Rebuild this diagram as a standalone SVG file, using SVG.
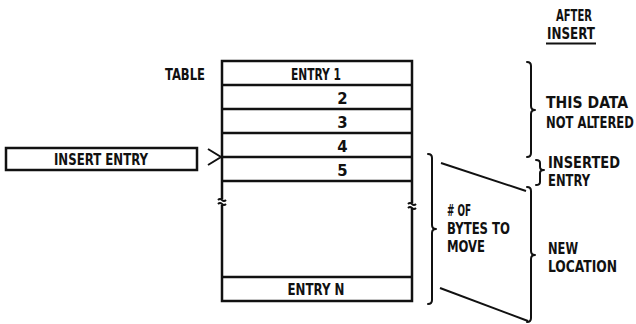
<svg xmlns="http://www.w3.org/2000/svg" width="636" height="324" viewBox="0 0 636 324">
<style>
text{font-family:"DejaVu Sans Condensed","DejaVu Sans","Liberation Sans",sans-serif;font-weight:bold;font-size:16.5px;fill:#111}
.box{fill:none;stroke:#111;stroke-width:2.5}
.ln{fill:none;stroke:#111;stroke-width:2}
.br{fill:none;stroke:#111;stroke-width:2;stroke-linecap:round;stroke-linejoin:round}
.m{text-anchor:middle}
</style>
<rect width="636" height="324" fill="#fff"/>
<g id="heading">
<text x="574" y="21" class="m" textLength="36" lengthAdjust="spacingAndGlyphs">AFTER</text>
<text x="571" y="39" class="m" textLength="48" lengthAdjust="spacingAndGlyphs">INSERT</text>
<line x1="546" y1="43.5" x2="596" y2="43.5" stroke="#111" stroke-width="2"/>
</g>
<g id="table">
<text x="205" y="80" text-anchor="end" textLength="40" lengthAdjust="spacingAndGlyphs">TABLE</text>
<path class="box" d="M222,199 V61 H412 V203 M222,205 V301 H412 V208"/>
<line class="box" x1="222" y1="85" x2="412" y2="85"/>
<line class="box" x1="222" y1="109" x2="412" y2="109"/>
<line class="box" x1="222" y1="133" x2="412" y2="133"/>
<line class="box" x1="222" y1="157" x2="412" y2="157"/>
<line class="box" x1="222" y1="181" x2="412" y2="181"/>
<line class="box" x1="222" y1="277" x2="412" y2="277"/>
<path class="ln" stroke-width="1.6" d="M218,200 q2,-2 4,0 t4,0 M218,204 q2,-2 4,0 t4,0 M408,204 q2,-2 4,0 t4,0 M408,208 q2,-2 4,0 t4,0"/>
<text x="316" y="80" class="m" textLength="50" lengthAdjust="spacingAndGlyphs">ENTRY 1</text>
<text x="342.5" y="104" class="m">2</text>
<text x="342.5" y="128" class="m">3</text>
<text x="342.5" y="152" class="m">4</text>
<text x="342.5" y="176" class="m">5</text>
<text x="316" y="295" class="m" textLength="57" lengthAdjust="spacingAndGlyphs">ENTRY N</text>
</g>
<g id="insert-entry">
<rect class="box" x="6" y="148" width="191" height="22"/>
<text x="101" y="165" class="m" textLength="94" lengthAdjust="spacingAndGlyphs">INSERT ENTRY</text>
</g>
<g id="connectors">
<path class="ln" stroke-width="2.5" d="M208,149 L221,157 L208,165"/>
<line class="ln" x1="441" y1="163" x2="526" y2="191"/>
<line class="ln" x1="440" y1="288" x2="528" y2="321"/>
</g>
<g id="bytes-to-move">
<path class="br" d="M428,154 Q432,154 432,158 V225 Q432,229 436,229 Q432,229 432,233 V300 Q432,304 428,304"/>
<text x="447" y="216" textLength="24" lengthAdjust="spacingAndGlyphs"># OF</text>
<text x="447" y="234" textLength="63" lengthAdjust="spacingAndGlyphs">BYTES TO</text>
<text x="447" y="252" textLength="38" lengthAdjust="spacingAndGlyphs">MOVE</text>
</g>
<g id="not-altered">
<path class="br" d="M527,62 Q531,62 531,66 V106 Q531,110 535,110 Q531,110 531,114 V153 Q531,157 527,157"/>
<text x="546" y="108" textLength="82" lengthAdjust="spacingAndGlyphs">THIS DATA</text>
<text transform="translate(546,128) scale(0.78,1)" x="0" y="0">NOT ALTERED</text>
</g>
<g id="inserted-entry">
<path class="br" d="M536,160 Q540,160 540,163 V167 Q540,170 544,170 Q540,170 540,173 V182 Q540,185 536,185"/>
<text x="548" y="168" textLength="72" lengthAdjust="spacingAndGlyphs">INSERTED</text>
<text x="548" y="186" textLength="42" lengthAdjust="spacingAndGlyphs">ENTRY</text>
</g>
<g id="new-location">
<path class="br" d="M527,187 Q531,187 531,191 V251 Q531,255 535,255 Q531,255 531,259 V318 Q531,322 527,322"/>
<text x="548" y="254" textLength="30" lengthAdjust="spacingAndGlyphs">NEW</text>
<text x="548" y="272" textLength="69" lengthAdjust="spacingAndGlyphs">LOCATION</text>
</g>
</svg>
